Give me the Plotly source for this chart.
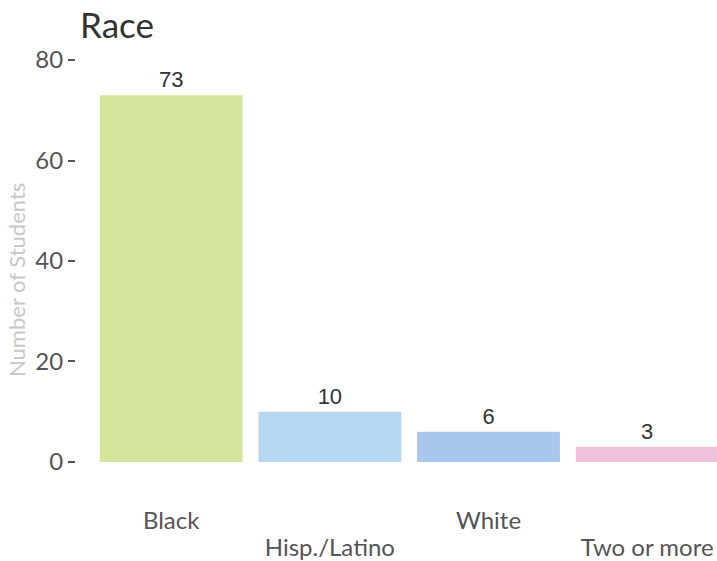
import plotly.graph_objects as go

categories = ["Black", "Hisp./Latino", "White", "Two or more"]
counts = [73, 10, 6, 3]
bar_colors = ["#d4e59c", "#b6d7f1", "#a9c6ec", "#f1c1dc"]
y_ticks = [0, 20, 40, 60, 80]

idx = list(range(len(categories)))
row1 = [i for i in idx if i % 2 == 0]
row2 = [i for i in idx if i % 2 == 1]

fig = go.Figure()
fig.add_trace(go.Bar(
    x=idx, y=counts,
    marker=dict(color=bar_colors, line=dict(width=0)),
    width=0.9,
    text=[str(c) for c in counts], textposition="outside",
    textfont=dict(family="Liberation Sans, Arial", size=22, color="#333333"),
    cliponaxis=False, hoverinfo="x+y",
))
fig.add_trace(go.Scatter(x=[], y=[], xaxis="x2", showlegend=False))

tickfont = dict(family="Lato", size=24, color="#555555")
fig.update_layout(
    width=717, height=561,
    margin=dict(l=76, r=0, t=40, b=79),
    paper_bgcolor="white", plot_bgcolor="white",
    font=dict(family="Lato"),
    title=dict(text="Race", x=80/717, xanchor="left", y=1-26/561, yanchor="middle",
               font=dict(family="Lato", size=35, color="#333333")),
    showlegend=False,
    xaxis=dict(
        range=[-0.6, 3.44], tickmode="array", tickvals=row1,
        ticktext=[categories[i] for i in row1], showgrid=False, zeroline=False,
        showline=False, ticks="", tickfont=tickfont, ticklabelstandoff=22,
    ),
    xaxis2=dict(
        overlaying="x", matches="x", anchor="y", side="bottom",
        tickmode="array", tickvals=row2, ticktext=[categories[i] for i in row2],
        showgrid=False, zeroline=False, showline=False, ticks="",
        tickfont=tickfont, ticklabelstandoff=49,
    ),
    yaxis=dict(
        range=[-4, 84], tickvals=y_ticks, showgrid=False, zeroline=False, showline=False,
        ticks="outside", ticklen=7, tickwidth=2, tickcolor="#555555",
        tickfont=dict(family="Lato", size=24, color="#555555"),
    ),
    annotations=[dict(
        text="Number of Students", textangle=-90, showarrow=False,
        xref="paper", yref="paper", x=-60/641, y=1-(280-40)/442,
        xanchor="center", yanchor="middle",
        font=dict(family="Lato", size=22, color="#c8c8c8"),
    )],
)

fig.write_html("out.html", config={"displayModeBar": False},
               post_script="document.body.style.margin='0';")
